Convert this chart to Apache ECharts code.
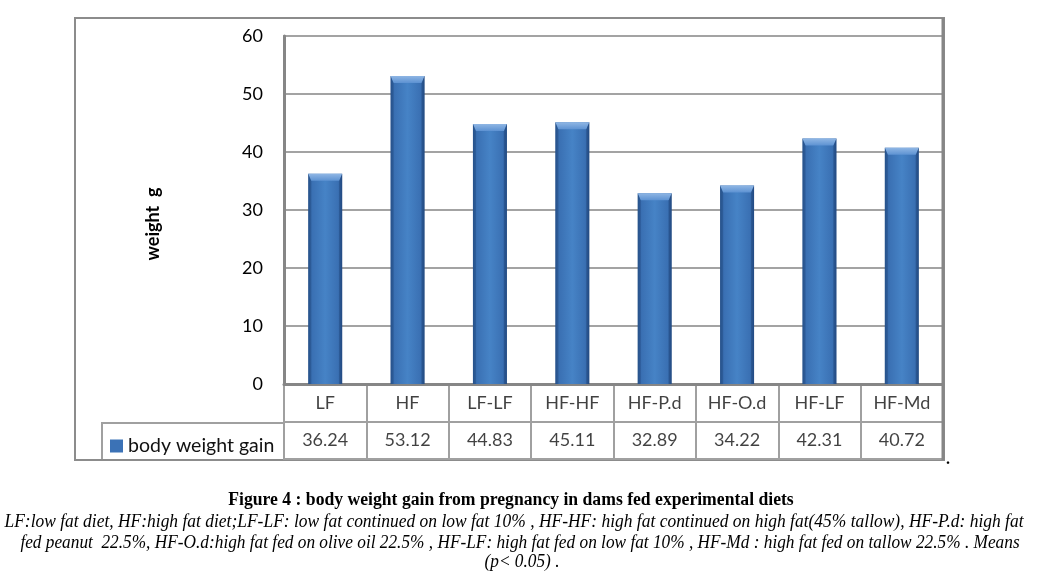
<!DOCTYPE html>
<html><head><meta charset="utf-8">
<script src="https://cdn.jsdelivr.net/npm/echarts@6/dist/echarts.min.js"></script>
<style>html,body{margin:0;padding:0;background:#fff}#c{width:1044px;height:581px}</style>
</head><body><div id="c"></div>
<script>
var categories = ['LF','HF','LF-LF','HF-HF','HF-P.d','HF-O.d','HF-LF','HF-Md'];
var values = [36.24,53.12,44.83,45.11,32.89,34.22,42.31,40.72];
var seriesName = 'body weight gain';
var yAxisTitle = 'weight  g';
var yTicks = {min:0,max:60,interval:10};
var captionTitle = 'Figure 4 : body weight gain from pregnancy in dams fed experimental diets';
var captionLines = [
 'LF:low fat diet, HF:high fat diet;LF-LF: low fat continued on low fat 10% , HF-HF: high fat continued on high fat(45% tallow), HF-P.d: high fat',
 'fed peanut  22.5%, HF-O.d:high fat fed on olive oil 22.5% , HF-LF: high fat fed on low fat 10% , HF-Md : high fat fed on tallow 22.5% . Means',
 '(p< 0.05) .'
];

var FONT = 'Lato';
var chart = echarts.init(document.getElementById('c'), null, {renderer:'canvas'});

var tableData = [];
categories.forEach(function(c,i){ tableData.push([i,0,c]); tableData.push([i,1,values[i].toFixed(2)]); });

function barItem(params, api){
  var v = api.value(1);
  var top = api.coord([api.value(0), v]);
  var base = api.coord([api.value(0), 0]);
  var w = 34;
  var x = top[0]-w/2, y = top[1], h = base[1]-top[1];
  var b = 7, s = 3;
  return {type:'group', children:[
    {type:'rect', shape:{x:x,y:y,width:w,height:h}, style:{fill:new echarts.graphic.LinearGradient(0,0,1,0,[
      {offset:0,color:'#2d5c98'},{offset:0.12,color:'#3a70b3'},{offset:0.5,color:'#4683c6'},{offset:0.88,color:'#3a70b3'},{offset:1,color:'#2a5690'}])}},
    {type:'polygon', shape:{points:[[x,y],[x+w,y],[x+w-s,y+b],[x+s,y+b]]}, style:{fill:new echarts.graphic.LinearGradient(0,0,0,1,[
      {offset:0,color:'#8fb6e4'},{offset:1,color:'#5d92d2'}])}},
    {type:'polygon', shape:{points:[[x,y],[x+s,y+b],[x+s,y+h],[x,y+h]]}, style:{fill:'rgba(20,50,100,0.25)'}},
    {type:'polygon', shape:{points:[[x+w,y],[x+w-s,y+b],[x+w-s,y+h],[x+w,y+h]]}, style:{fill:'rgba(20,50,100,0.3)'}}
  ]};
}

var option = {
  backgroundColor:'#fff',
  animation:false,
  legend:{data:[seriesName], left:105, top:431, icon:'rect', itemWidth:13, itemHeight:13, itemGap:5,
    textStyle:{fontFamily:FONT, fontSize:19.5, color:'#111'}},
  grid:[
    {left:284, top:36, right:101, bottom:197, show:true, borderColor:'#b3b3b3', borderWidth:2},
    {left:284, top:384, right:101, height:75, show:true, borderColor:'#a0a0a0', borderWidth:2}
  ],
  xAxis:[
    {type:'category', data:categories, gridIndex:0, axisLine:{show:true,lineStyle:{color:'#868686',width:3}}, axisTick:{show:false}, axisLabel:{show:false}},
    {type:'category', data:categories, gridIndex:1, axisLine:{show:false}, axisTick:{show:false}, axisLabel:{show:false},
      splitLine:{show:true, lineStyle:{color:'#a0a0a0', width:2}}}
  ],
  yAxis:[
    {type:'value', gridIndex:0, min:yTicks.min, max:yTicks.max, interval:yTicks.interval,
      axisLine:{show:true, lineStyle:{color:'#868686', width:3}}, axisTick:{show:false},
      axisLabel:{margin:21, fontFamily:FONT, fontSize:18, color:'#000'},
      splitLine:{lineStyle:{color:'#a3a3a3', width:2}}},
    {type:'category', gridIndex:1, data:['h','v'], inverse:true, axisLine:{show:false}, axisTick:{show:false}, axisLabel:{show:false},
      splitLine:{show:true, lineStyle:{color:'#a0a0a0', width:2}}}
  ],
  series:[
    {name:seriesName, type:'custom', xAxisIndex:0, yAxisIndex:0, renderItem:barItem,
      itemStyle:{color:'#3b72b6'}, data:values.map(function(v,i){return [i,v];}), encode:{x:0,y:1}},
    {type:'scatter', xAxisIndex:1, yAxisIndex:1, symbolSize:1, itemStyle:{color:'rgba(0,0,0,0)'},
      data:tableData,
      label:{show:true, position:'inside', formatter:function(p){return p.data[2];}, fontFamily:FONT, fontSize:18, color:'#111'}}
  ],
  graphic:[
    {type:'rect', shape:{x:75,y:18,width:869,height:442}, style:{fill:'none', stroke:'#8c8c8c', lineWidth:2}, z:-1},
    {type:'polyline', shape:{points:[[102,459],[102,423],[284,423]]}, style:{fill:'none', stroke:'#a0a0a0', lineWidth:2}},
    {type:'line', shape:{x1:943,y1:18,x2:943,y2:460}, style:{stroke:'#868686', lineWidth:3}, z:10},
    {type:'text', x:153, y:224, rotation:Math.PI/2, style:{text:yAxisTitle, align:'center', verticalAlign:'middle', font:'bold 18px "Lato"', fill:'#000'}},
    {type:'text', x:946, y:452, style:{text:'.', font:'bold 16px "Liberation Serif"', fill:'#000'}},
    {type:'text', x:511, y:500, scaleX:0.98, style:{text:captionTitle, align:'center', verticalAlign:'middle', font:'bold 18px "Liberation Serif"', fill:'#000'}},
    {type:'text', x:514, y:522, scaleX:0.97, style:{text:captionLines[0], align:'center', verticalAlign:'middle', font:'italic 18px "Liberation Serif"', fill:'#000'}},
    {type:'text', x:520, y:543, scaleX:0.96, style:{text:captionLines[1], align:'center', verticalAlign:'middle', font:'italic 18px "Liberation Serif"', fill:'#000'}},
    {type:'text', x:522, y:562, scaleX:0.96, style:{text:captionLines[2], align:'center', verticalAlign:'middle', font:'italic 18px "Liberation Serif"', fill:'#000'}}
  ]
};
chart.setOption(option);
</script></body></html>
